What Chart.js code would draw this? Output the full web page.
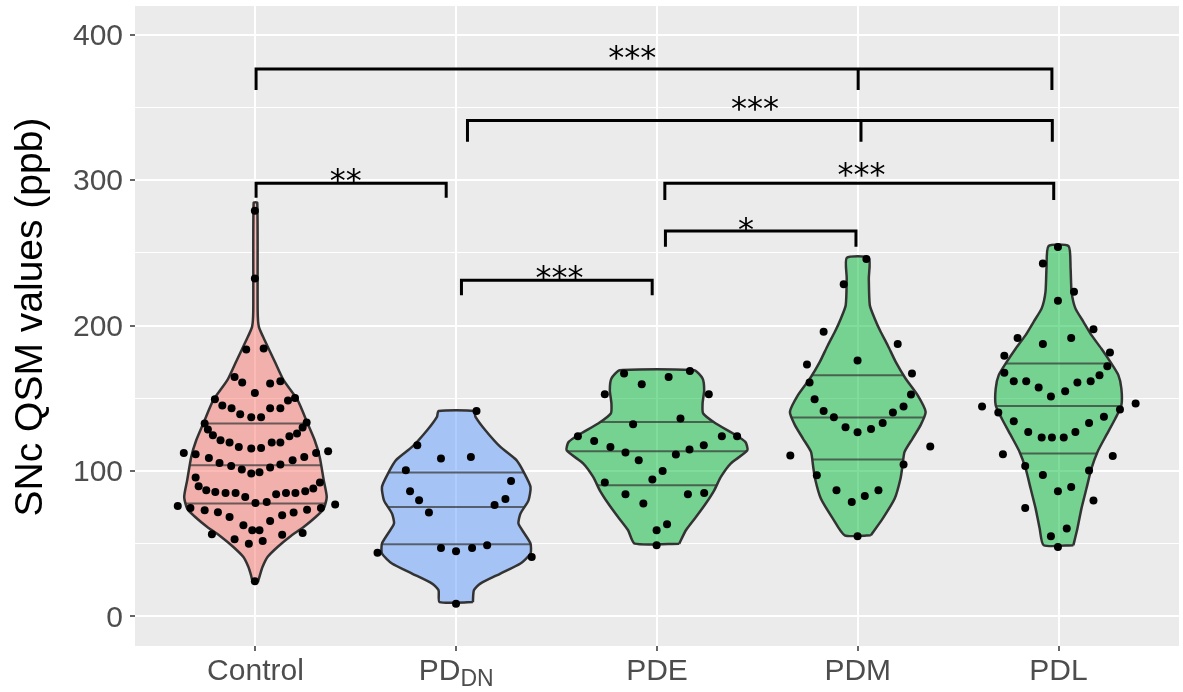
<!DOCTYPE html>
<html>
<head>
<meta charset="utf-8">
<script src="https://cdn.jsdelivr.net/npm/chart.js@4.4.1/dist/chart.umd.min.js"></script>
<style>
  html, body { margin: 0; padding: 0; background: #fff; }
  canvas { display: block; }
</style>
</head>
<body>
<canvas id="chart" width="1183" height="692"></canvas>
<script>
// categories and tick labels
const xLabels = ["Control", "PD", "PDE", "PDM", "PDL"];
const xSubs = ["", "DN", "", "", ""];
const yMajor = [0, 100, 200, 300, 400];
const yMinor = [50, 150, 250, 350];

// jittered observations: [offset from group centre, value]
const controlPoints = [[-0.003,278.9],[-0.003,232.4],[-0.046,183.6],[0.041,184.2],[-0.104,164.7],[-0.066,160.8],[-0.003,153.7],[0.073,160.2],[0.124,161.7],[-0.202,149.3],[-0.165,145.0],[-0.119,143.2],[-0.076,139.0],[-0.021,137.0],[0.028,137.0],[0.073,143.2],[0.124,143.2],[0.162,148.5],[0.197,150.2],[-0.253,132.6],[-0.237,128.5],[-0.212,124.6],[-0.174,121.1],[-0.129,119.5],[-0.083,116.5],[-0.021,115.4],[0.028,115.8],[0.081,119.5],[0.124,119.5],[0.169,123.9],[0.207,125.7],[0.235,129.9],[0.255,133.3],[-0.357,112.4],[-0.298,111.5],[-0.232,108.9],[-0.179,105.5],[-0.121,103.4],[-0.068,101.0],[-0.021,98.2],[0.020,99.1],[0.073,102.3],[0.124,104.4],[0.185,107.4],[0.243,109.6],[0.302,112.4],[0.362,113.6],[-0.298,95.5],[-0.283,89.5],[-0.245,86.7],[-0.200,85.5],[-0.149,84.9],[-0.099,84.9],[-0.051,82.1],[0,78.0],[0.056,78.7],[0.103,84.0],[0.152,84.9],[0.199,84.9],[0.248,86.0],[0.288,87.9],[0.321,92.0],[-0.387,75.9],[-0.324,74.5],[-0.253,73.0],[-0.187,71.6],[-0.129,68.3],[-0.060,62.6],[-0.016,59.2],[0.020,59.2],[0.073,65.6],[0.133,69.5],[0.190,71.4],[0.257,73.4],[0.326,74.5],[0.397,76.9],[-0.217,56.4],[-0.104,53.0],[-0.033,50.0],[0.036,51.8],[0.133,56.2],[0.235,57.3],[-0.003,24.1]];
const pddnPoints = [[0.101,141.3],[-0.194,117.7],[-0.076,108.5],[0.073,109.6],[-0.251,100.5],[0.273,93.1],[-0.230,86.0],[-0.185,79.8],[0.245,80.7],[0.191,76.6],[-0.136,71.4],[-0.076,47.0],[-0.001,44.7],[0.079,47.0],[0.154,48.9],[-0.392,43.8],[0.376,40.8],[-0.001,8.7]];
const pdePoints = [[-0.164,167.0],[0.164,168.8],[0.058,164.7],[-0.076,159.7],[-0.260,152.8],[0.258,152.8],[0.117,136.1],[-0.119,132.1],[-0.394,123.9],[-0.313,120.6],[0.323,123.9],[0.399,123.9],[-0.232,116.5],[0.233,117.7],[-0.157,112.7],[0.162,114.7],[0.094,111.3],[-0.091,107.4],[0.028,100.0],[-0.023,94.1],[-0.260,92.0],[-0.157,84.0],[0.154,84.0],[0.235,84.9],[-0.068,77.6],[0.050,63.3],[-0.002,59.2],[-0.002,48.9]];
const pdmPoints = [[0.043,245.7],[-0.070,228.5],[-0.170,195.7],[0.199,187.4],[-0.001,176.0],[-0.253,173.2],[0.270,167.0],[-0.240,160.8],[0.265,152.6],[-0.215,149.3],[0.228,144.3],[-0.170,141.3],[0.175,140.2],[-0.119,137.0],[0.124,133.0],[-0.061,130.1],[0.066,128.9],[-0.001,126.6],[0.361,116.8],[-0.336,110.6],[0.228,104.4],[-0.204,97.0],[-0.106,86.7],[0.103,86.7],[0.035,82.8],[-0.030,78.7],[-0.001,55.1]];
const pdlPoints = [[-0.003,254.0],[-0.078,242.7],[0.077,223.2],[-0.003,217.0],[0.174,197.5],[-0.204,191.5],[0.063,191.5],[-0.078,187.4],[0.256,181.5],[-0.270,179.2],[0.243,172.1],[-0.270,167.5],[0.204,165.9],[-0.223,161.7],[-0.161,161.7],[0.094,160.8],[0.160,161.7],[-0.099,157.4],[0.033,154.9],[-0.038,151.2],[-0.381,144.3],[0.384,146.4],[0.306,142.3],[-0.300,140.2],[0.226,137.2],[-0.223,134.2],[0.152,133.0],[-0.151,126.8],[0.084,126.8],[-0.084,123.0],[-0.033,123.0],[0.026,123.0],[-0.277,111.5],[0.270,110.3],[-0.166,103.4],[0.152,100.3],[-0.078,97.2],[0.063,89.0],[-0.003,86.0],[0.174,79.6],[-0.166,74.5],[0.041,60.4],[-0.038,55.1],[-0.003,47.7]];

// violin density profiles, bottom to top: [value, half width]
const controlViolin = [[23.6,0.012],[28.2,0.022],[33.9,0.035],[40.8,0.06],[47.7,0.11],[54.6,0.17],[61.5,0.24],[68.3,0.30],[74.1,0.34],[82.1,0.355],[93.6,0.34],[109.6,0.32],[121.1,0.295],[132.6,0.26],[148.7,0.21],[162.4,0.14],[176.2,0.093],[189.9,0.046],[199.1,0.017],[210,0.011],[284.5,0.009]];
const pddnViolin = [[9.8,0.083],[17.9,0.088],[22.5,0.12],[29.4,0.22],[36.3,0.32],[43.2,0.37],[50.0,0.37],[56.9,0.34],[63.8,0.31],[70.7,0.32],[79.8,0.36],[89.0,0.37],[98.2,0.34],[107.4,0.30],[116.5,0.22],[128.0,0.145],[137.2,0.096],[141.3,0.088]];
const pdeViolin = [[50.0,0.111],[59.2,0.144],[68.3,0.194],[77.6,0.243],[86.7,0.285],[95.9,0.318],[105.1,0.367],[114.2,0.45],[120.0,0.44],[125.7,0.38],[132.6,0.293],[139.5,0.23],[146.4,0.227],[155.5,0.235],[163.6,0.227],[169.3,0.185]];
const pdmViolin = [[55.7,0.065],[67.2,0.124],[81.0,0.184],[94.8,0.213],[103.9,0.223],[113.1,0.233],[122.3,0.273],[131.5,0.313],[140.6,0.338],[152.1,0.298],[163.6,0.238],[175.0,0.189],[186.5,0.149],[195.7,0.114],[204.9,0.084],[214.0,0.060],[232.4,0.055],[246.6,0.055]];
const pdlViolin = [[48.9,0.074],[60.4,0.094],[74.1,0.114],[87.9,0.139],[101.7,0.164],[113.1,0.194],[124.6,0.238],[136.1,0.283],[145.2,0.313],[156.7,0.313],[165.9,0.298],[175.0,0.258],[184.2,0.213],[193.4,0.164],[202.6,0.124],[211.8,0.084],[223.2,0.065],[239.3,0.060],[254.6,0.050]];

// 25 / 50 / 75 % quantiles
const controlQuant = [77.6, 103.9, 132.6];
const pddnQuant = [49.6, 75.2, 98.9];
const pdeQuant = [90.2, 113.6, 133.7];
const pdmQuant = [107.8, 136.8, 165.9];
const pdlQuant = [112.0, 144.7, 173.9];

// significance brackets
const bracketLeft = [1.003, 2.056, 1.003, 3.039, 3.042, 2.026];
const bracketRight = [4.967, 4.969, 1.950, 4.976, 3.991, 2.976];
const bracketMid = [4.002, 4.016, null, null, null, null];
const bracketTop = [376.5, 341.0, 297.8, 297.8, 265.0, 231.2];
const bracketTip = [362.0, 326.4, 287.9, 286.3, 254.2, 220.9];
const starText = ["***", "***", "**", "***", "*", "***"];
const starX = [2.877, 3.488, 1.450, 4.019, 3.443, 2.514];
const starY = [389.5, 354.6, 304.9, 309.2, 271.4, 238.3];

const allPoints = [controlPoints, pddnPoints, pdePoints, pdmPoints, pdlPoints];
const allViolins = [controlViolin, pddnViolin, pdeViolin, pdmViolin, pdlViolin];
const allQuants = [controlQuant, pddnQuant, pdeQuant, pdmQuant, pdlQuant];
const fills = ["rgba(248,118,109,0.5)", "rgba(97,156,255,0.5)", "rgba(0,186,56,0.5)", "rgba(0,186,56,0.5)", "rgba(0,186,56,0.5)"];

const font = '"Liberation Sans", Arial, sans-serif';

function halfWidthAt(prof, v) {
  for (let i = 1; i < prof.length; i++) {
    if (v <= prof[i][0]) {
      const t = (v - prof[i - 1][0]) / (prof[i][0] - prof[i - 1][0]);
      return prof[i - 1][1] + t * (prof[i][1] - prof[i - 1][1]);
    }
  }
  return prof[prof.length - 1][1];
}

const datasets = [];

allViolins.forEach((prof, i) => {
  const c = i + 1;
  const right = prof.map(([v, w]) => ({ x: c + w, y: v }));
  const left = prof.slice().reverse().map(([v, w]) => ({ x: c - w, y: v }));
  datasets.push({
    type: "line",
    data: right.concat(left, [right[0]]),
    showLine: true,
    fill: "shape",
    backgroundColor: fills[i],
    borderColor: "#333333",
    borderWidth: 2.5,
    pointRadius: 0,
    tension: 0.2,
    order: 3,
  });
  allQuants[i].forEach((q) => {
    const w = halfWidthAt(prof, q);
    datasets.push({
      type: "line",
      data: [{ x: c - w, y: q }, { x: c + w, y: q }],
      showLine: true,
      fill: false,
      borderColor: "rgba(51,51,51,0.7)",
      borderWidth: 2,
      pointRadius: 0,
      order: 2,
    });
  });
});

allPoints.forEach((pts, i) => {
  datasets.push({
    type: "scatter",
    data: pts.map(([d, v]) => ({ x: i + 1 + d, y: v })),
    backgroundColor: "#000000",
    borderWidth: 0,
    pointRadius: 4,
    order: 1,
  });
});

bracketLeft.forEach((l, i) => {
  const r = bracketRight[i];
  datasets.push({
    type: "line",
    data: [
      { x: l, y: bracketTip[i] },
      { x: l, y: bracketTop[i] },
      { x: r, y: bracketTop[i] },
      { x: r, y: bracketTip[i] },
    ],
    showLine: true,
    fill: false,
    borderColor: "#000000",
    borderWidth: 3,
    borderJoinStyle: "miter",
    pointRadius: 0,
    order: 0,
  });
  if (bracketMid[i] !== null) {
    datasets.push({
      type: "line",
      data: [{ x: bracketMid[i], y: bracketTop[i] }, { x: bracketMid[i], y: bracketTip[i] }],
      showLine: true,
      fill: false,
      borderColor: "#000000",
      borderWidth: 3,
      pointRadius: 0,
      order: 0,
    });
  }
});

const panelPlugin = {
  id: "panel",
  beforeDraw(chart) {
    const { ctx, chartArea: a } = chart;
    ctx.save();
    ctx.fillStyle = "#EBEBEB";
    ctx.fillRect(a.left, a.top, a.right - a.left, a.bottom - a.top);
    ctx.restore();
  },
  afterDraw(chart) {
    const { ctx, chartArea: a } = chart;
    const xs = chart.scales.x;
    const ys = chart.scales.y;
    ctx.save();
    // significance stars
    ctx.fillStyle = "#000000";
    ctx.font = '32px "DejaVu Sans", sans-serif';
    ctx.textAlign = "center";
    ctx.textBaseline = "alphabetic";
    starText.forEach((s, i) => {
      ctx.fillText(s, xs.getPixelForValue(starX[i]), ys.getPixelForValue(starY[i]) + 18);
    });
    // x labels (one has a subscript)
    ctx.fillStyle = "#4D4D4D";
    ctx.textAlign = "left";
    const base = a.bottom + 34;
    xLabels.forEach((lab, i) => {
      const px = xs.getPixelForValue(i + 1);
      ctx.font = "30px " + font;
      const w1 = ctx.measureText(lab).width;
      ctx.font = "23px " + font;
      const w2 = xSubs[i] ? ctx.measureText(xSubs[i]).width : 0;
      const left = px - (w1 + w2) / 2;
      ctx.font = "30px " + font;
      ctx.fillText(lab, left, base);
      if (w2) {
        ctx.font = "23px " + font;
        ctx.fillText(xSubs[i], left + w1, base + 6);
      }
    });
    // y title
    ctx.fillStyle = "#000000";
    ctx.font = "39px " + font;
    ctx.textAlign = "center";
    ctx.textBaseline = "middle";
    ctx.translate(31, (a.top + a.bottom) / 2 - 9);
    ctx.rotate(-Math.PI / 2);
    ctx.fillText("SNc QSM values (ppb)", 0, 0);
    ctx.restore();
  },
};

new Chart(document.getElementById("chart"), {
  type: "scatter",
  data: { datasets },
  options: {
    responsive: false,
    animation: false,
    devicePixelRatio: 1,
    events: [],
    layout: { padding: { left: 0, right: 1, top: 6, bottom: 0 } },
    plugins: { legend: { display: false }, tooltip: { enabled: false } },
    scales: {
      x: {
        type: "linear",
        min: 0.4,
        max: 5.6,
        afterBuildTicks: (s) => { s.ticks = xLabels.map((l, i) => ({ value: i + 1 })); },
        afterFit: (s) => { s.height = 46; s.paddingLeft = 0; s.paddingRight = 0; },
        grid: { color: "#FFFFFF", lineWidth: 2, tickColor: "#333333", tickLength: 5, tickWidth: 1.5 },
        border: { display: false },
        ticks: { callback: () => "", autoSkip: false, maxRotation: 0 },
      },
      y: {
        type: "linear",
        min: -20.4,
        max: 419.8,
        afterBuildTicks: (s) => { s.ticks = yMajor.concat(yMinor).sort((a, b) => a - b).map((v) => ({ value: v })); },
        afterFit: (s) => { s.width = 135; s.paddingTop = 0; s.paddingBottom = 0; },
        grid: {
          color: "#FFFFFF",
          lineWidth: (c) => (c.tick && yMajor.includes(c.tick.value) ? 2 : 1),
          tickColor: (c) => (c.tick && yMajor.includes(c.tick.value) ? "#333333" : "rgba(0,0,0,0)"),
          tickLength: 5,
          tickWidth: 1.5,
        },
        border: { display: false },
        ticks: {
          callback: (v) => (yMajor.includes(v) ? String(v) : ""),
          font: { family: font, size: 30 },
          color: "#4D4D4D",
          padding: 7,
          labelOffset: 2,
          autoSkip: false,
        },
      },
    },
  },
  plugins: [panelPlugin],
});
</script>
</body>
</html>
